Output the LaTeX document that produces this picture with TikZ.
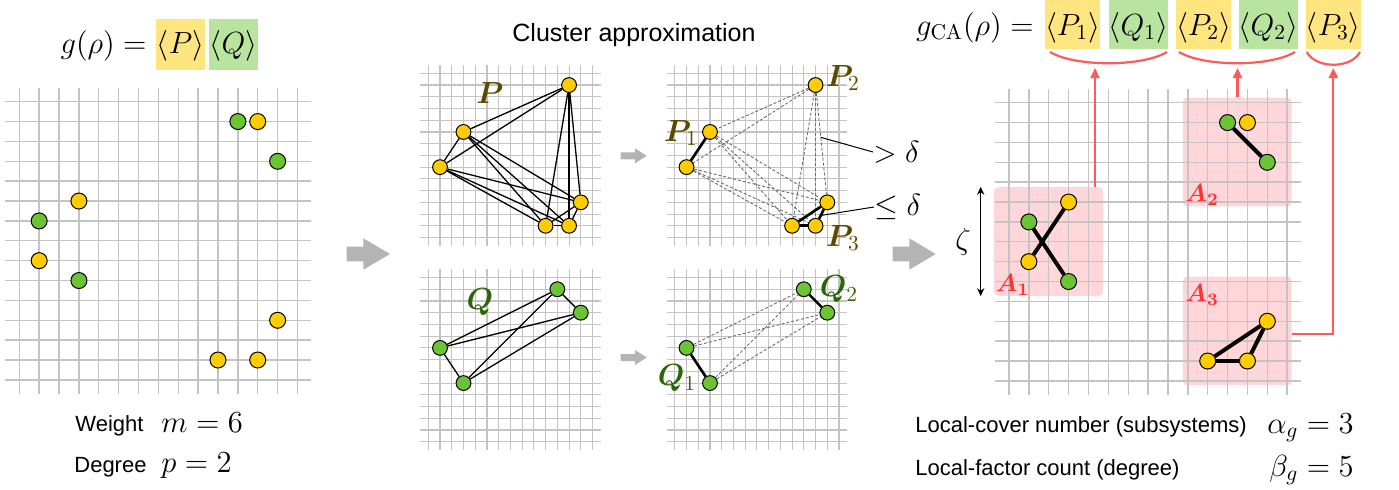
\RequirePackage{fix-cm}
\documentclass[tikz,border=0pt]{standalone}
\usepackage{fontspec}
\usepackage{amsmath}
\usepackage{bm}
\newfontfamily\sansf{Liberation Sans}
\usetikzlibrary{arrows.meta,calc}
\pgfdeclarelayer{boxl}
\pgfdeclarelayer{gridl}
\pgfdeclarelayer{edgel}
\pgfsetlayers{boxl,gridl,edgel,main}
\definecolor{dotyellow}{RGB}{255,204,0}
\definecolor{dotgreen}{RGB}{108,196,52}
\definecolor{boxyellow}{RGB}{255,229,128}
\definecolor{boxgreen}{RGB}{185,228,160}
\definecolor{gridgray}{RGB}{196,196,196}
\definecolor{redline}{RGB}{255,90,90}
\definecolor{redlab}{RGB}{255,51,51}
\definecolor{pinkfill}{RGB}{255,214,217}
\definecolor{arrowgray}{RGB}{180,180,180}
\definecolor{pcol}{RGB}{94,72,0}
\definecolor{qcol}{RGB}{45,100,10}
\definecolor{dashgray}{RGB}{110,110,110}
\tikzset{
 gridline/.style={draw=gridgray, line width=0.7pt},
 fgridline/.style={draw=gridgray, line width=0.55pt},
 ydot/.style={circle, draw=black, line width=0.5pt, fill=dotyellow, inner sep=0pt, minimum size=#1},
 ydot/.default=8pt,
 gdot/.style={circle, draw=black, line width=0.5pt, fill=dotgreen, inner sep=0pt, minimum size=#1},
 gdot/.default=8pt,
 thinedge/.style={draw=black, line width=0.65pt},
 midthick/.style={draw=black, line width=1.3pt},
 thickedge/.style={draw=black, line width=2pt},
 dashedge/.style={draw=dashgray, line width=0.45pt, dash pattern=on 1.5pt off 1pt},
 mathlab/.style={inner sep=0pt, font=\fontsize{15.3}{18}\selectfont},
 sanslab/.style={inner sep=0pt, font=\sansf\fontsize{11}{13}\selectfont},
 plab/.style={mathlab, text=pcol},
 qlab/.style={mathlab, text=qcol},
 alab/.style={inner sep=0pt, text=redlab, font=\fontsize{12.5}{15}\selectfont},
 ybox/.style={fill=boxyellow, inner sep=0pt},
 gbox/.style={fill=boxgreen, inner sep=0pt},
 abox/.style={fill=pinkfill, rounded corners=2pt, inner sep=0pt, minimum width=54.4pt, minimum height=54.3pt},
 redconn/.style={draw=redline, line width=1.1pt},
 redarrow/.style={redconn, -{Triangle[length=5pt,width=4.5pt]}},
 leader/.style={draw=black, line width=0.5pt},
 bigarrow/.style={fill=arrowgray},
}
\newcommand\mygrid[4]{%
 \begin{scope}[shift={(#1,#2)},x=#3,y=-#3]
 \foreach \k in {0,...,14}{\draw[#4] (\k,-0.7) -- (\k,14.7); \draw[#4] (-0.7,\k) -- (14.7,\k);}
 \end{scope}}
\newcommand\ydotset[2]{%
 \node[ydot=#2] (#1y1) at (12,1) {};
 \node[ydot=#2] (#1y2) at (3,5) {};
 \node[ydot=#2] (#1y3) at (1,8) {};
 \node[ydot=#2] (#1y4) at (13,11) {};
 \node[ydot=#2] (#1y5) at (10,13) {};
 \node[ydot=#2] (#1y6) at (12,13) {};}
\newcommand\gdotset[2]{%
 \node[gdot=#2] (#1g1) at (11,1) {};
 \node[gdot=#2] (#1g2) at (13,3) {};
 \node[gdot=#2] (#1g3) at (1,6) {};
 \node[gdot=#2] (#1g4) at (3,9) {};}
\begin{document}
\begin{tikzpicture}[x=0.5pt,y=-0.5pt]
\useasboundingbox (0,0) rectangle (1399,489);

% ---------- boxes ----------
\begin{pgfonlayer}{boxl}
 \node[ybox, minimum width=24.5pt, minimum height=25.5pt] (bP) at (180.5,44.5) {};
 \node[gbox, minimum width=24.5pt, minimum height=25.5pt] (bQ) at (233.5,44.5) {};
 \node[ybox, minimum width=27.5pt, minimum height=24.5pt] (bP1) at (1072.5,24.5) {};
 \node[gbox, minimum width=29.35pt, minimum height=24.5pt] (bQ1) at (1138.35,24.5) {};
 \node[ybox, minimum width=27.5pt, minimum height=24.5pt] (bP2) at (1203.5,24.5) {};
 \node[gbox, minimum width=29.35pt, minimum height=24.5pt] (bQ2) at (1268.35,24.5) {};
 \node[ybox, minimum width=27.35pt, minimum height=24.5pt] (bP3) at (1333.35,24.5) {};
 \node[abox] (A1) at (1048.5,241.5) {};
 \node[abox] (A2) at (1237.3,152) {};
 \node[abox] (A3) at (1237.3,330.8) {};
\end{pgfonlayer}

% ---------- grids ----------
\begin{pgfonlayer}{gridl}
 \mygrid{19.3}{101.7}{9.935pt}{gridline}
 \mygrid{1009}{102.7}{9.935pt}{gridline}
 \mygrid{428.3}{73.3}{5.865pt}{fgridline}
 \mygrid{674.8}{73.3}{5.865pt}{fgridline}
 \mygrid{428.3}{277.5}{5.865pt}{fgridline}
 \mygrid{674.8}{277.5}{5.865pt}{fgridline}
\end{pgfonlayer}

% ---------- dots ----------
\begin{scope}[shift={(19.3,101.7)},x=9.935pt,y=-9.935pt]
 \ydotset{L}{8pt}\gdotset{L}{8pt}
\end{scope}
\begin{scope}[shift={(1009,102.7)},x=9.935pt,y=-9.935pt]
 \ydotset{R}{8pt}\gdotset{R}{8pt}
\end{scope}
\begin{scope}[shift={(428.3,73.3)},x=5.865pt,y=-5.865pt]
 \ydotset{Pa}{7.4pt}
\end{scope}
\begin{scope}[shift={(674.8,73.3)},x=5.865pt,y=-5.865pt]
 \ydotset{Pb}{7.4pt}
\end{scope}
\begin{scope}[shift={(428.3,277.5)},x=5.865pt,y=-5.865pt]
 \gdotset{Qa}{7.4pt}
\end{scope}
\begin{scope}[shift={(674.8,277.5)},x=5.865pt,y=-5.865pt]
 \gdotset{Qb}{7.4pt}
\end{scope}

% ---------- edges ----------
\begin{pgfonlayer}{edgel}
 \foreach \a/\b in {1/2,1/3,1/4,1/5,1/6,2/3,2/4,2/5,2/6,3/4,3/5,3/6,4/5,4/6,5/6}
  \draw[thinedge] (Pay\a) -- (Pay\b);
 \foreach \a/\b in {1/2,1/3,1/4,1/5,1/6,2/4,2/5,2/6,3/4,3/5,3/6}
  \draw[dashedge] (Pby\a) -- (Pby\b);
 \foreach \a/\b in {2/3,4/5,4/6,5/6}
  \draw[midthick] (Pby\a) -- (Pby\b);
 \foreach \a/\b in {1/2,1/3,1/4,2/3,2/4,3/4}
  \draw[thinedge] (Qag\a) -- (Qag\b);
 \foreach \a/\b in {3/1,3/2,4/1,4/2}
  \draw[dashedge] (Qbg\a) -- (Qbg\b);
 \foreach \a/\b in {1/2,3/4}
  \draw[midthick] (Qbg\a) -- (Qbg\b);
 \draw[thickedge] (Rg1) -- (Rg2);
 \draw[thickedge] (Ry2) -- (Ry3);
 \draw[thickedge] (Rg3) -- (Rg4);
 \draw[thickedge] (Ry4) -- (Ry5);
 \draw[thickedge] (Ry4) -- (Ry6);
 \draw[thickedge] (Ry5) -- (Ry6);
\end{pgfonlayer}

% ---------- left texts ----------
\node[mathlab, anchor=base east] (gL) at (147,53) {$g(\rho) =$};
\node[mathlab, anchor=base] (tP) at (180.5,53) {$\langle P\rangle$};
\node[mathlab, anchor=base] (tQ) at (233.5,53) {$\langle Q\rangle$};
\node[sanslab, anchor=base west] (wt) at (75,431) {Weight};
\node[mathlab, anchor=base west] (wm) at (161,432) {$m = 6$};
\node[sanslab, anchor=base west] (dg) at (74,472) {Degree};
\node[mathlab, anchor=base west] (dp) at (161,472.5) {$p = 2$};

% ---------- middle texts ----------
\node[inner sep=0pt, anchor=base, font=\sansf\fontsize{12.5}{15}\selectfont] (ctitle) at (634,41.7) {Cluster approximation};
\node[plab] (Plab) at (490,93) {$\bm{P}$};
\node[plab] (P1lab) at (681,133) {$\bm{P}_1$};
\node[plab] (P2lab) at (843,78) {$\bm{P}_2$};
\node[plab] (P3lab) at (843,238) {$\bm{P}_3$};
\node[qlab] (Qlab) at (480,302) {$\bm{Q}$};
\node[qlab] (Q2lab) at (839,289) {$\bm{Q}_2$};
\node[qlab] (Q1lab) at (677,378) {$\bm{Q}_1$};
\node[mathlab, anchor=west] (gtd) at (873,152) {$>\delta$};
\node[mathlab, anchor=west] (led) at (874,207) {$\leq\delta$};
\coordinate (gtS) at ($(Pby1)!0.446!(Pby4)$);
\coordinate (leS) at ($(Pby4)!0.56!(Pby6)$);
\draw[leader] (gtS) -- (gtd.west);
\draw[leader] (leS) -- (led.west);

% ---------- big gray arrows ----------
\fill[bigarrow] (346.7,246.7) -- (363.3,246.7) -- (363.3,238.3) -- (390,254) -- (363.3,269.7) -- (363.3,261.3) -- (346.7,261.3) -- cycle;
\fill[bigarrow] (892.7,246.7) -- (909.3,246.7) -- (909.3,238.3) -- (935.7,254) -- (909.3,269.7) -- (909.3,261.3) -- (892.7,261.3) -- cycle;
\fill[bigarrow] (620.7,152.3) -- (635,152.3) -- (635,148.3) -- (646.7,155.8) -- (635,163.3) -- (635,159.3) -- (620.7,159.3) -- cycle;
\fill[bigarrow] (620.7,354) -- (635,354) -- (635,350) -- (646.7,357.5) -- (635,365) -- (635,361) -- (620.7,361) -- cycle;

% ---------- right texts ----------
\node[mathlab, anchor=base east] (gR) at (1034,35) {$g_{\mathrm{CA}}(\rho) =$};
\node[mathlab, anchor=base] (tP1) at (1072.5,35) {$\langle P_1\rangle$};
\node[mathlab, anchor=base] (tQ1) at (1138.35,35) {$\langle Q_1\rangle$};
\node[mathlab, anchor=base] (tP2) at (1203.5,35) {$\langle P_2\rangle$};
\node[mathlab, anchor=base] (tQ2) at (1268.35,35) {$\langle Q_2\rangle$};
\node[mathlab, anchor=base] (tP3) at (1333.35,35) {$\langle P_3\rangle$};
\node[alab] (A1lab) at (1012.5,285) {$\bm{A_1}$};
\node[alab] (A2lab) at (1202,195) {$\bm{A_2}$};
\node[alab] (A3lab) at (1202,295) {$\bm{A_3}$};
\node[mathlab] (zeta) at (963,242) {$\zeta$};
\coordinate (zc) at (980.7,0);
\draw[line width=0.6pt, {Stealth[length=4pt,width=3.6pt]}-{Stealth[length=4pt,width=3.6pt]}] (A1.north -| zc) -- (A1.south -| zc);
\node[sanslab, anchor=base west] (lc) at (915,432) {Local-cover number (subsystems)};
\node[mathlab, anchor=base east] (al) at (1354,433) {$\alpha_g = 3$};
\node[sanslab, anchor=base west] (lf) at (915,475) {Local-factor count (degree)};
\node[mathlab, anchor=base east] (be) at (1354,476) {$\beta_g = 5$};

% ---------- red braces and connectors ----------
\coordinate (b1l) at (1050,52); \coordinate (b1r) at (1167,52);
\coordinate (b2l) at (1179,52); \coordinate (b2r) at (1295,52);
\coordinate (b3l) at (1306.7,52); \coordinate (b3r) at (1360,52);
\draw[redconn] (b1l) .. controls (1075,67) and (1142,67) .. (b1r);
\draw[redconn] (b2l) .. controls (1204,67) and (1270,67) .. (b2r);
\draw[redconn] (b3l) .. controls (1316,69) and (1351,69) .. (b3r);
\coordinate (t1) at (1095,68);
\coordinate (t2) at (1237.5,68);
\coordinate (t3) at (1333.3,68);
\coordinate (c3) at (1333.3,334);
\draw[redarrow] (A1.north -| t1) -- (t1);
\draw[redarrow] (A2.north -| t2) -- (t2);
\draw[redarrow] (A3.east |- c3) -- (c3) -- (t3);
\end{tikzpicture}
\end{document}
